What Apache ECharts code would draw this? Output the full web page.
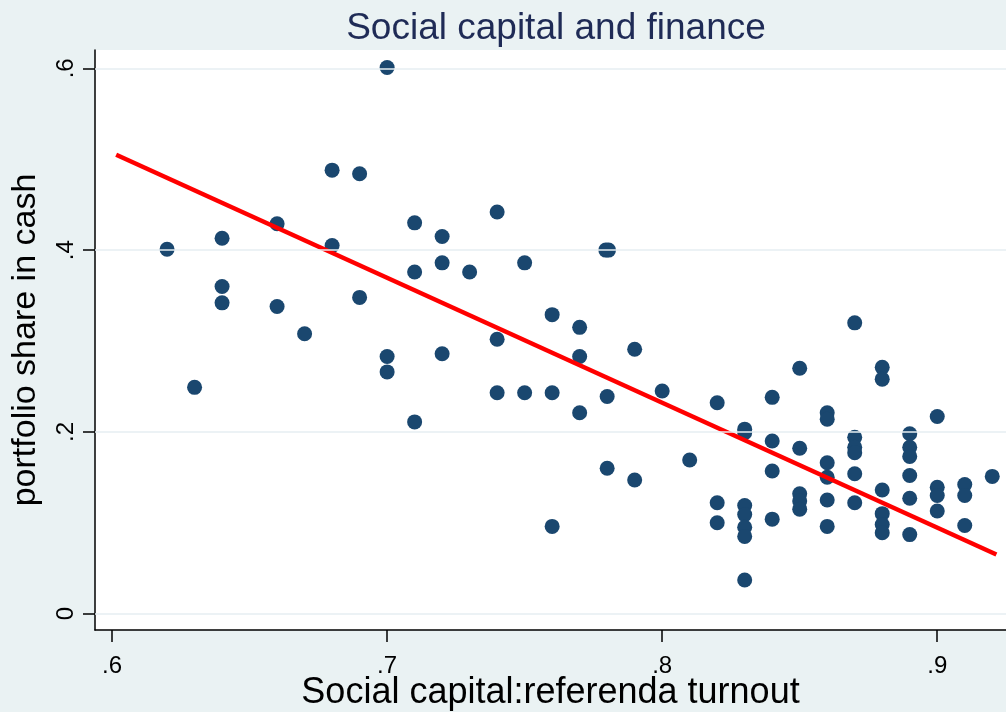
<!DOCTYPE html>
<html>
<head>
<meta charset="utf-8">
<script src="https://cdn.jsdelivr.net/npm/echarts@6/dist/echarts.min.js"></script>
<style>
html,body{margin:0;padding:0;background:#eaf2f3;}
#chart{width:1006px;height:712px;}
</style>
</head>
<body>
<div id="chart"></div>
<script>
// Social capital: referenda turnout (x) and portfolio share in cash (y)
const turnout = [
  0.62,
  0.63,
  0.64, 0.64, 0.64,
  0.66, 0.66,
  0.67,
  0.68, 0.68,
  0.69, 0.69,
  0.70, 0.70, 0.70,
  0.71, 0.71, 0.71,
  0.72, 0.72, 0.72,
  0.73,
  0.74, 0.74, 0.74,
  0.75, 0.75,
  0.76, 0.76, 0.76,
  0.77, 0.77, 0.77,
  0.7795, 0.7805, 0.78, 0.78,
  0.79, 0.79,
  0.80,
  0.81,
  0.82, 0.82, 0.82,
  0.83, 0.83, 0.83, 0.83, 0.83, 0.83, 0.83,
  0.84, 0.84, 0.84, 0.84,
  0.85, 0.85, 0.85, 0.85, 0.85,
  0.86, 0.86, 0.86, 0.86, 0.86, 0.86,
  0.87, 0.87, 0.87, 0.87, 0.87, 0.87,
  0.88, 0.88, 0.88, 0.88, 0.88, 0.88,
  0.89, 0.89, 0.89, 0.89, 0.89, 0.89,
  0.90, 0.90, 0.90, 0.90,
  0.91, 0.91, 0.91,
  0.92
];
const cashShare = [
  0.401,
  0.249,
  0.413, 0.360, 0.342,
  0.429, 0.338,
  0.308,
  0.488, 0.405,
  0.484, 0.348,
  0.601, 0.283, 0.266,
  0.430, 0.376, 0.211,
  0.415, 0.386, 0.286,
  0.376,
  0.442, 0.302, 0.243,
  0.386, 0.243,
  0.329, 0.243, 0.096,
  0.315, 0.283, 0.221,
  0.400, 0.400, 0.239, 0.160,
  0.291, 0.147,
  0.245,
  0.169,
  0.232, 0.122, 0.100,
  0.203, 0.199, 0.119, 0.109, 0.095, 0.085, 0.037,
  0.238, 0.190, 0.157, 0.104,
  0.270, 0.182, 0.132, 0.124, 0.115,
  0.221, 0.214, 0.166, 0.150, 0.125, 0.096,
  0.320, 0.194, 0.183, 0.177, 0.154, 0.122,
  0.271, 0.258, 0.136, 0.110, 0.098, 0.089,
  0.198, 0.183, 0.173, 0.152, 0.127, 0.087,
  0.217, 0.139, 0.130, 0.113,
  0.142, 0.130, 0.097,
  0.151
];
// Fitted line end points
const fitTurnout = [0.6015, 0.9215];
const fitShare = [0.505, 0.065];
// Tick values
const xTicks = [0.6, 0.7, 0.8, 0.9];
const yTicks = [0, 0.2, 0.4, 0.6];

const titleText = 'Social capital and finance';
const xName = 'Social capital:referenda turnout';
const yName = 'portfolio share in cash';

const FONT = '"Liberation Sans", Arial, Helvetica, sans-serif';
const fmt = v => { const s = String(+v.toFixed(2)); return s.replace(/^0\./, '.'); };

const points = turnout.map((x, i) => [x, cashShare[i]]);
const fitPoints = fitTurnout.map((x, i) => [x, fitShare[i]]);

const chart = echarts.init(document.getElementById('chart'), null, {renderer: 'canvas'});
chart.setOption({
  animation: false,
  backgroundColor: '#eaf2f3',
  title: {
    text: titleText,
    left: 551,
    textAlign: 'center',
    top: 5,
    textStyle: {fontFamily: FONT, fontSize: 37, fontWeight: 'normal', color: '#1f2b56'}
  },
  grid: {
    left: 95, right: 0, top: 50, bottom: 82,
    outerBoundsMode: 'none',
    containLabel: false,
    show: true, backgroundColor: '#ffffff', borderWidth: 0
  },
  xAxis: {
    type: 'value',
    min: 0.5938, max: 0.925,
    name: xName,
    nameLocation: 'middle',
    nameGap: 45,
    nameMoveOverlap: false,
    nameTextStyle: {fontFamily: FONT, fontSize: 36, color: '#000', verticalAlign: 'top'},
    axisLine: {show: true, onZero: false, lineStyle: {color: '#000', width: 1.5}},
    axisTick: {show: true, inside: false, length: 12, customValues: xTicks, lineStyle: {color: '#000', width: 1.5}},
    axisLabel: {customValues: xTicks, formatter: fmt, margin: 24, fontFamily: FONT, fontSize: 24, color: '#000'},
    splitLine: {show: false}
  },
  yAxis: {
    type: 'value',
    min: -0.018, max: 0.6202,
    name: yName,
    nameLocation: 'middle',
    nameGap: 52,
    nameRotate: 90,
    nameMoveOverlap: false,
    nameTextStyle: {fontFamily: FONT, fontSize: 34, color: '#000'},
    axisLine: {show: true, onZero: false, lineStyle: {color: '#000', width: 1.5}},
    axisTick: {show: true, inside: false, length: 12, customValues: yTicks, lineStyle: {color: '#000', width: 1.5}},
    axisLabel: {customValues: yTicks, formatter: fmt, rotate: 90, margin: 17, fontFamily: FONT, fontSize: 24, color: '#000'},
    splitLine: {show: false}
  },
  series: [
    {
      type: 'line',
      data: [],
      z: 1,
      silent: true,
      markLine: {
        silent: true,
        symbol: ['none', 'none'],
        label: {show: false},
        lineStyle: {color: '#e6eef2', width: 1.5, type: 'solid'},
        data: yTicks.map(v => ({yAxis: v}))
      }
    },
    {
      type: 'scatter',
      data: points,
      z: 2,
      symbol: 'circle',
      symbolSize: 15,
      itemStyle: {color: '#1a476f', opacity: 1}
    },
    {
      type: 'line',
      data: fitPoints,
      z: 3,
      symbol: 'none',
      lineStyle: {color: '#ff0000', width: 4.5}
    }
  ]
});
</script>
</body>
</html>
